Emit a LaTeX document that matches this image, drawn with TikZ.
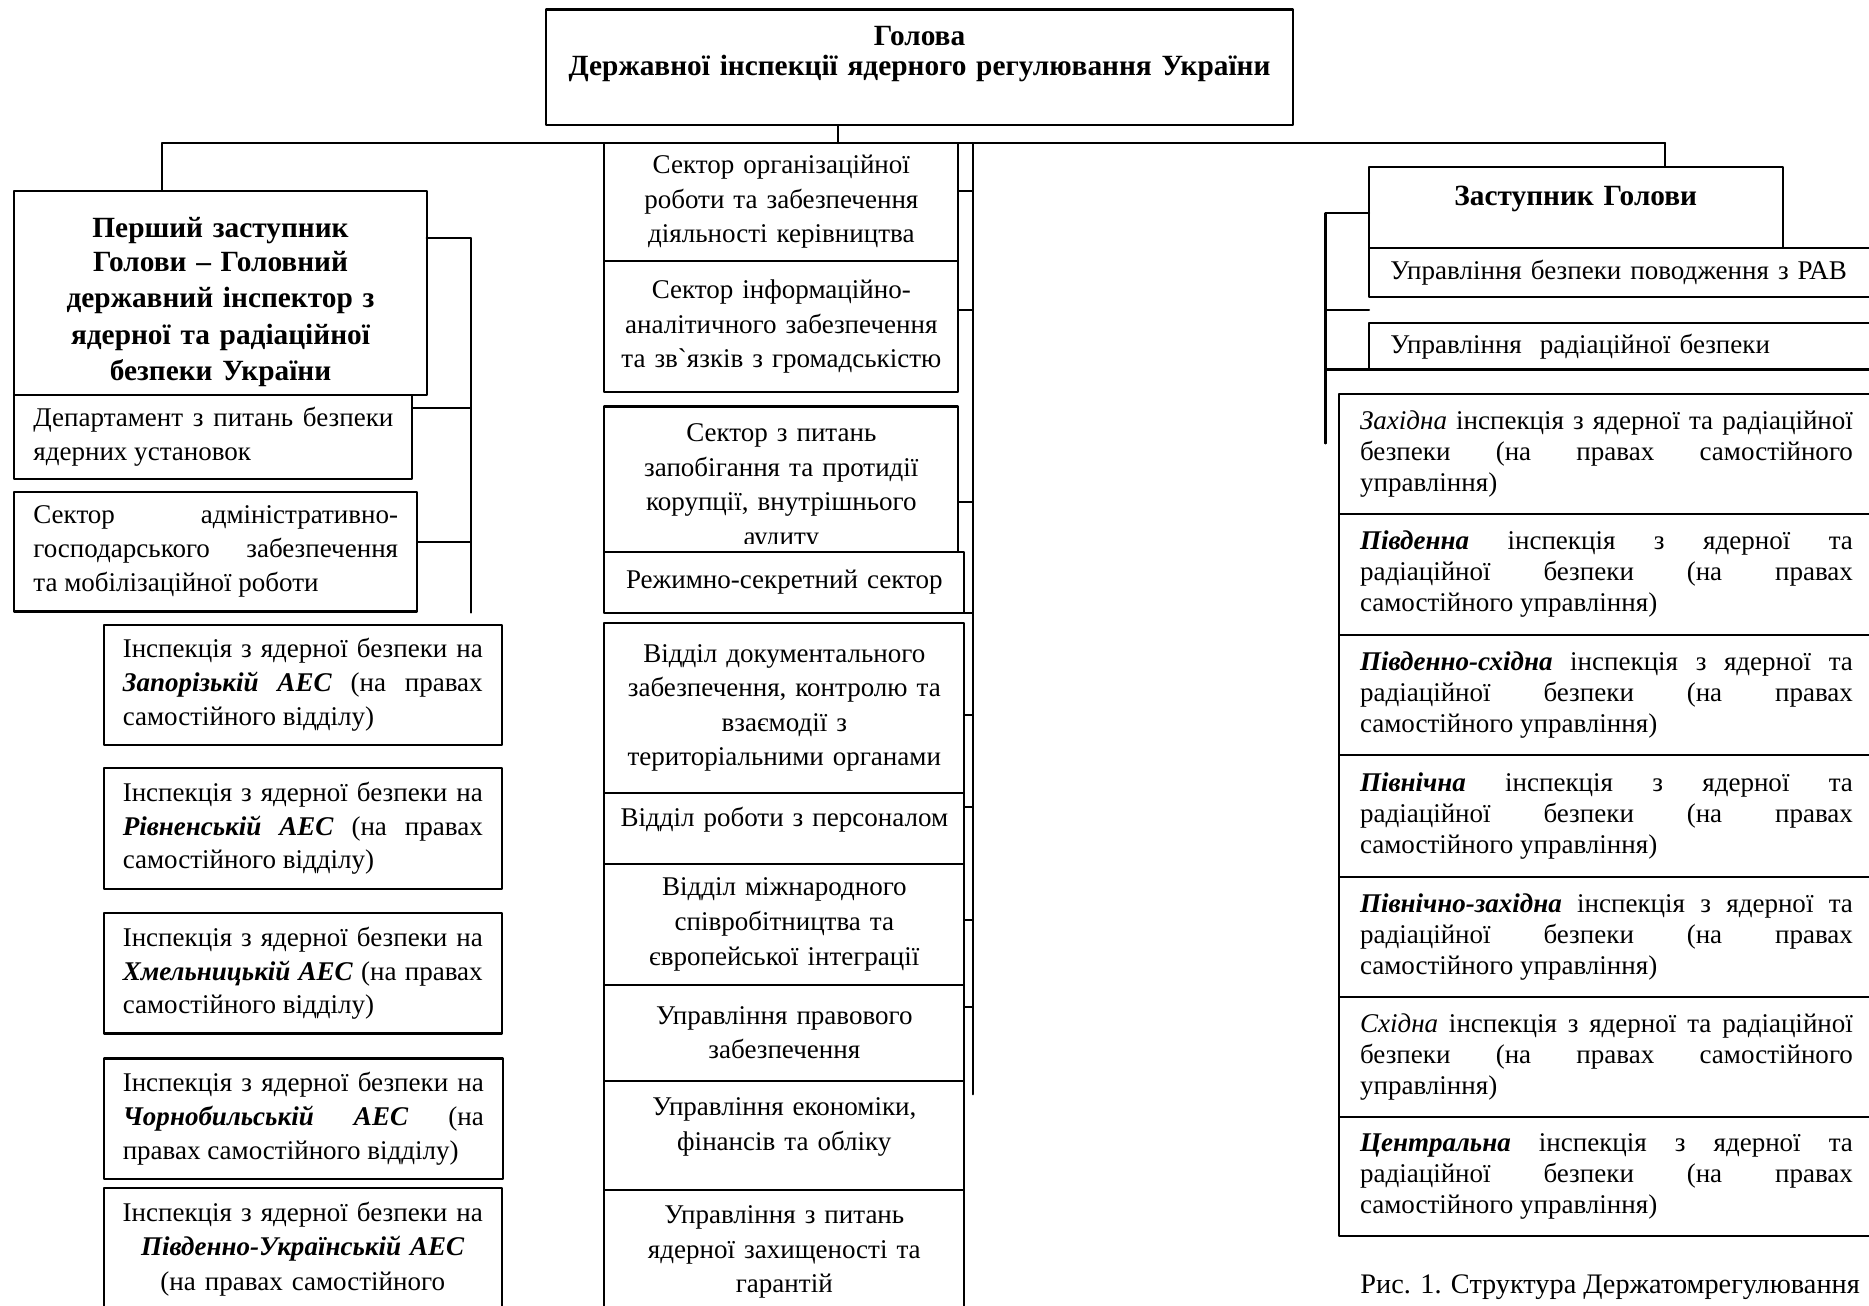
\documentclass[tikz,border=0pt]{standalone}
\usepackage{fontspec}
\setmainfont{Liberation Serif}

\newcommand{\bitx}[1]{\textbf{\textit{#1}}}
\newcommand{\liftby}[1]{\par\kern#1\relax}
% [стиль]{ім'я}{x1}{y1}{x2}{y2}{текст}
\newcommand{\orgbox}[7][]{%
  \node[orgbox,#1,minimum width={(#5-#3)*0.2mm},minimum height={(#6-#4)*0.2mm},
    text width={(#5-#3)*0.2mm-2*\pgfkeysvalueof{/pgf/inner xsep}}]
    (#2) at ({(#3+#5)/2},{(#4+#6)/2}) {#7};}

\tikzset{
  orgbox/.style={draw,fill=white,line width=1pt,inner xsep=3.2mm,inner ysep=0pt,outer sep=0pt},
  leftcol/.style={font=\fontsize{12.9}{16.1}\selectfont,align=justify},
  midcol/.style={font=\fontsize{12.9}{16.5}\selectfont,align=center,inner xsep=0.4mm},
  rightcol/.style={font=\fontsize{12.9}{14.8}\selectfont,align=justify,inner xsep=3.5mm},
  unitbox/.style={font=\fontsize{12.9}{15}\selectfont,align=left,inner xsep=3.6mm},
  chief/.style={font=\bfseries\fontsize{14}{14.2}\selectfont,align=center},
  deputy/.style={font=\bfseries\fontsize{14}{17.3}\selectfont,align=center},
  link/.style={line width=1pt},
}

\begin{document}
\begin{tikzpicture}[line cap=round,line join=round,x=0.2mm,y=-0.2mm]
\useasboundingbox (0,0) rectangle (1568,1095);
\clip (0,0) rectangle (1568,1095);

%голова
\orgbox[chief]{head}{458}{8}{1085}{105}{Голова\\Державної інспекції ядерного регулювання України\liftby{12.5pt}}

%шини
\coordinate (busL) at (136,120);
\coordinate (busR) at (1397,120);
\coordinate (stem) at (703,120);
\coordinate (lbusT) at (395,200);
\coordinate (lbusB) at (395,514);
\coordinate (mbusT) at (816,120);
\coordinate (mbusB) at (816,918);
\coordinate (rbusT) at (1112,179);
\coordinate (rbusB) at (1112,372);

%ліва колонка
\orgbox[deputy]{first}{12}{160}{358}{331}{\vspace*{-1pt}Перший заступник\\Голови – Головний\\державний інспектор з\\ядерної та радіаційної\\безпеки України\par\kern-9pt}
\orgbox[leftcol]{dept}{12}{331}{346}{402}{Департамент з питань безпеки\linebreak ядерних установок}
\orgbox[leftcol]{admin}{12}{412.5}{350}{513}{Сектор адміністративно-\linebreak господарського забезпечення\linebreak та мобілізаційної роботи}
\orgbox[leftcol]{zap}{87}{524}{421}{625}{Інспекція з ядерної безпеки на\linebreak \bitx{Запорізькій АЕС} (на правах\linebreak самостійного відділу)}
\orgbox[leftcol]{riv}{87}{644}{421}{746}{Інспекція з ядерної безпеки на\linebreak \bitx{Рівненській АЕС} (на правах\linebreak самостійного відділу)}
\orgbox[leftcol]{khm}{87}{766}{421}{867}{Інспекція з ядерної безпеки на\linebreak \bitx{Хмельницькій АЕС} (на правах\linebreak самостійного відділу)}
\orgbox[leftcol]{chor}{87}{888}{422}{989}{Інспекція з ядерної безпеки на\linebreak \bitx{Чорнобильській АЕС} (на\linebreak правах самостійного відділу)}
\orgbox[midcol]{pu}{87}{997}{421}{1099}{Інспекція з ядерної безпеки на\\\bitx{Південно-Українській АЕС}\\(на правах самостійного}

%середня колонка
\orgbox[midcol]{sec1}{507}{120}{804}{219}{Сектор організаційної\\роботи та забезпечення\\діяльності керівництва}
\orgbox[midcol]{sec2}{507}{219}{804}{329}{Сектор інформаційно-\\аналітичного забезпечення\\та зв\textasciigrave{}язків з громадськістю}
\orgbox[midcol]{sec3}{507}{341}{804}{477}{Сектор з питань\\запобігання та протидії\\корупції, внутрішнього\\аудиту}
\fill[white] (509,456) rectangle (802,462);
\orgbox[midcol]{regime}{507}{463}{809}{514}{Режимно-секретний сектор}
\orgbox[midcol]{docs}{507}{523}{809}{665}{Відділ документального\\забезпечення, контролю та\\взаємодії з\\територіальними органами}
\orgbox[midcol]{staff}{507}{665}{809}{725}{Відділ роботи з персоналом\liftby{8pt}}
\orgbox[midcol]{intl}{507}{725}{809}{826}{Відділ міжнародного\\співробітництва та\\європейської інтеграції}
\orgbox[midcol]{legal}{507}{826}{809}{907}{Управління правового\\забезпечення}
\orgbox[midcol]{econ}{507}{907}{809}{998}{Управління економіки,\\фінансів та обліку\liftby{8pt}}
\orgbox[midcol]{guard}{507}{998}{809}{1103}{Управління з питань\\ядерної захищеності та\\гарантій}

%права колонка
\orgbox[deputy]{second}{1148.5}{140}{1495.5}{208.3}{Заступник Голови\liftby{8.6pt}}
\orgbox[unitbox]{rav}{1148.5}{208.3}{1572}{249}{Управління безпеки поводження з РАВ}
\orgbox[unitbox]{rad}{1148.5}{271}{1572}{310}{Управління~ радіаційної безпеки}
\orgbox[rightcol]{west}{1123.5}{330.5}{1572}{431}{\textit{Західна} інспекція з ядерної та радіаційної\linebreak безпеки (на правах самостійного\linebreak управління)}
\orgbox[rightcol]{south}{1123.5}{431}{1572}{532.4}{\bitx{Південна} інспекція з ядерної та\linebreak радіаційної безпеки (на правах\linebreak самостійного управління)}
\orgbox[rightcol]{southeast}{1123.5}{532.4}{1572}{633.2}{\bitx{Південно-східна} інспекція з ядерної та\linebreak радіаційної безпеки (на правах\linebreak самостійного управління)}
\orgbox[rightcol]{north}{1123.5}{633.2}{1572}{735.6}{\bitx{Північна} інспекція з ядерної та\linebreak радіаційної безпеки (на правах\linebreak самостійного управління)}
\orgbox[rightcol]{northwest}{1123.5}{735.6}{1572}{836.4}{\bitx{Північно-західна} інспекція з ядерної та\linebreak радіаційної безпеки (на правах\linebreak самостійного управління)}
\orgbox[rightcol]{east}{1123.5}{836.4}{1572}{937.2}{\textit{Східна} інспекція з ядерної та радіаційної\linebreak безпеки (на правах самостійного\linebreak управління)}
\orgbox[rightcol]{central}{1123.5}{937.2}{1572}{1037.3}{\bitx{Центральна} інспекція з ядерної та\linebreak радіаційної безпеки (на правах\linebreak самостійного управління)}

\node[font=\fontsize{13.5}{15}\selectfont,anchor=west,inner sep=0pt] (caption) at (1141,1080) {Рис. 1. Структура Держатомрегулювання};

%лінії
\draw[link] (busL) -- (busR);
\draw[link] (stem) -- (stem |- head.south);
\draw[link] (busL) -- (busL |- first.north);
\draw[link] (busR) -- (busR |- second.north);

\draw[link] (lbusT) -- (lbusB);
\foreach \bx/\ty in {first/200,dept/342,admin/455}
{
\path (395,\ty) coordinate (tk);
\draw[link] (tk -| \bx.east) -- (tk);
}

\draw[link] (mbusT) -- (mbusB);
\foreach \bx/\ty in {sec1/160,sec2/260,sec3/421,regime/514,docs/600,staff/677,intl/772,legal/845}
{
\path (816,\ty) coordinate (tk);
\draw[link] (tk -| \bx.east) -- (tk);
}

\draw[link] (rbusT) -- (rbusB);
\foreach \ty in {179,260,310}
{
\path (1112,\ty) coordinate (tk);
\draw[link] (tk) -- (tk -| second.west);
}
\end{tikzpicture}
\end{document}
